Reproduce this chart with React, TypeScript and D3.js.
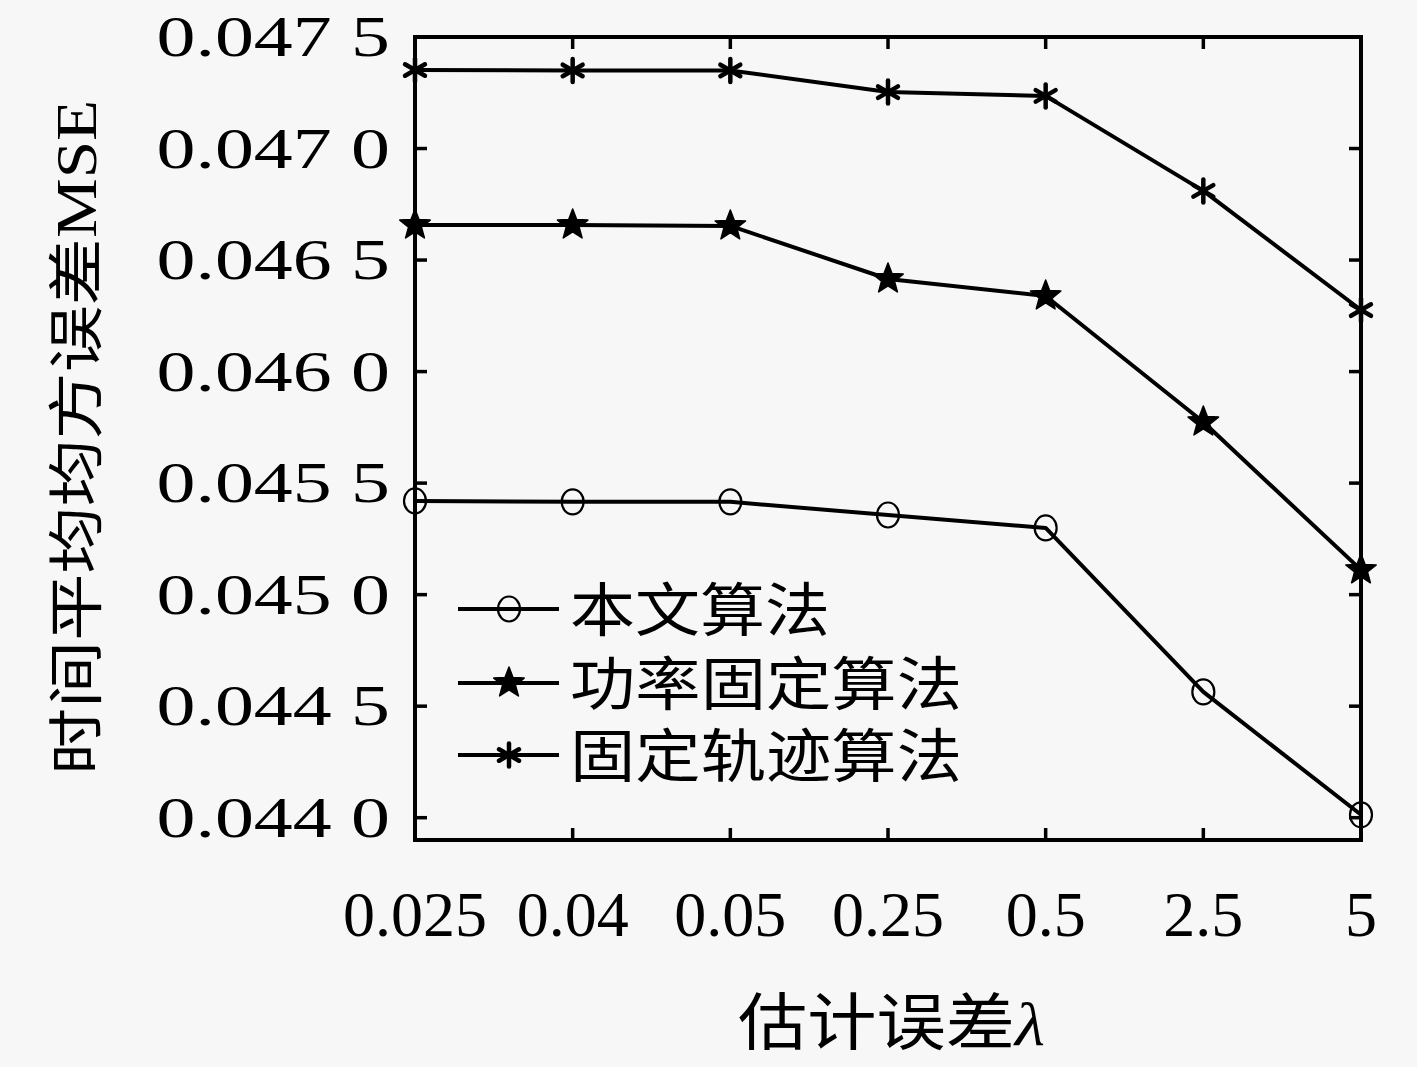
import React from "react";
import * as d3 from "d3";

const categories = ["0.025", "0.04", "0.05", "0.25", "0.5", "2.5", "5"];
const proposed = [0.04542, 0.045416, 0.045416, 0.045357, 0.045299, 0.044564, 0.044013];
const fixedPower = [0.046657, 0.046657, 0.046653, 0.046415, 0.046339, 0.045774, 0.045111];
const fixedTrajectory = [0.047352, 0.047350, 0.047350, 0.047253, 0.047236, 0.046810, 0.046276];
const yTicks = [0.044, 0.0445, 0.045, 0.0455, 0.046, 0.0465, 0.047, 0.0475];
const seriesNames = ["本文算法", "功率固定算法", "固定轨迹算法"];

const W = 1417, H = 1067;
const L = 415, R = 1361, T = 37, B = 840;
const BG = "#f7f7f7";

function starPath(cx: number, cy: number, ro: number, ri: number) {
  const pts: [number, number][] = [];
  for (let i = 0; i < 10; i++) {
    const r = i % 2 === 0 ? ro : ri;
    const a = -Math.PI / 2 + (i * Math.PI) / 5;
    pts.push([cx + r * Math.cos(a), cy + r * Math.sin(a)]);
  }
  return "M" + pts.map((p) => p.join(",")).join("L") + "Z";
}

function Marker({ kind, x, y }: { kind: number; x: number; y: number }) {
  if (kind === 0) {
    return <ellipse cx={x} cy={y} rx={11} ry={12.5} fill="none" stroke="#000" strokeWidth={2.2} />;
  }
  if (kind === 1) {
    return <path d={starPath(x, y, 16, 6.8)} fill="#000" stroke="#000" strokeWidth={1.5} strokeLinejoin="round" />;
  }
  const r = 11.5;
  const arms = [90, 30, 150];
  return (
    <g stroke="#000" strokeWidth={4.5} strokeLinecap="round">
      {arms.map((a) => {
        const rad = (a * Math.PI) / 180;
        return (
          <line key={a} x1={x - r * Math.cos(rad)} y1={y - r * Math.sin(rad)} x2={x + r * Math.cos(rad)} y2={y + r * Math.sin(rad)} />
        );
      })}
    </g>
  );
}

export default function App() {
  const x = d3.scalePoint<string>().domain(categories).range([L, R]);
  const y = d3.scaleLinear().domain([0.0439, 0.0475]).range([B, T]);
  const line = d3
    .line<number>()
    .x((_, i) => x(categories[i]) as number)
    .y((d) => y(d));
  const all = [proposed, fixedPower, fixedTrajectory];
  const fmt = (v: number) => {
    const s = v.toFixed(4);
    return s.slice(0, 5) + " " + s.slice(5);
  };
  const serif = "'Liberation Serif', 'DejaVu Serif', serif";
  const cjk = "'Noto Sans CJK SC', 'Noto Sans', sans-serif";
  const tick = 12;
  const legendY = [609, 683, 755];
  const legendW = [260, 392, 392];

  return (
    <svg width={W} height={H} style={{ position: "absolute", left: 0, top: 0, display: "block", background: BG }}>
      <rect x={0} y={0} width={W} height={H} fill={BG} />
      {all.map((s, k) => (
        <path key={"l" + k} d={line(s) || ""} fill="none" stroke="#000" strokeWidth={4} strokeLinejoin="round" />
      ))}
      {all.map((s, k) =>
        s.map((v, i) => <Marker key={`m${k}-${i}`} kind={k} x={x(categories[i]) as number} y={y(v)} />)
      )}
      <rect x={L} y={T} width={R - L} height={B - T} fill="none" stroke="#000" strokeWidth={4} />
      {yTicks.map((t) => (
        <g key={"yt" + t}>
          <line x1={L} x2={L + tick} y1={y(t)} y2={y(t)} stroke="#000" strokeWidth={3.5} />
          <line x1={R} x2={R - tick} y1={y(t)} y2={y(t)} stroke="#000" strokeWidth={3.5} />
          <text
            transform={`translate(390,${y(t) + 19}) scale(1.39,1)`}
            textAnchor="end"
            fontFamily={serif}
            fontSize={56}
            fill="#000"
          >
            {fmt(t)}
          </text>
        </g>
      ))}
      {categories.map((c) => {
        const cx = x(c) as number;
        return (
          <g key={"xt" + c}>
            <line x1={cx} x2={cx} y1={B} y2={B - tick} stroke="#000" strokeWidth={3.5} />
            <line x1={cx} x2={cx} y1={T} y2={T + tick} stroke="#000" strokeWidth={3.5} />
            <text x={cx} y={936} textAnchor="middle" fontFamily={serif} fontSize={64} fill="#000">
              {c}
            </text>
          </g>
        );
      })}
      {seriesNames.map((n, k) => (
        <g key={"lg" + k}>
          <line x1={458} x2={559} y1={legendY[k]} y2={legendY[k]} stroke="#000" strokeWidth={4} />
          <Marker kind={k} x={509} y={legendY[k]} />
          <text
            x={570}
            y={legendY[k] + 22}
            fontFamily={cjk}
            fontSize={58}
            fill="#000"
            textLength={legendW[k]}
            lengthAdjust="spacingAndGlyphs"
          >
            {n}
          </text>
        </g>
      ))}
      <text x={738} y={1045} fontFamily={cjk} fontSize={62} fill="#000" textLength={307} lengthAdjust="spacingAndGlyphs">
        估计误差<tspan fontFamily={serif} fontStyle="italic">λ</tspan>
      </text>
      <text
        transform="translate(96,775) rotate(-90)"
        fontFamily={cjk}
        fontSize={56}
        fill="#000"
        textLength={675}
        lengthAdjust="spacingAndGlyphs"
      >
        时间平均均方误差<tspan fontFamily={serif}>MSE</tspan>
      </text>
    </svg>
  );
}
